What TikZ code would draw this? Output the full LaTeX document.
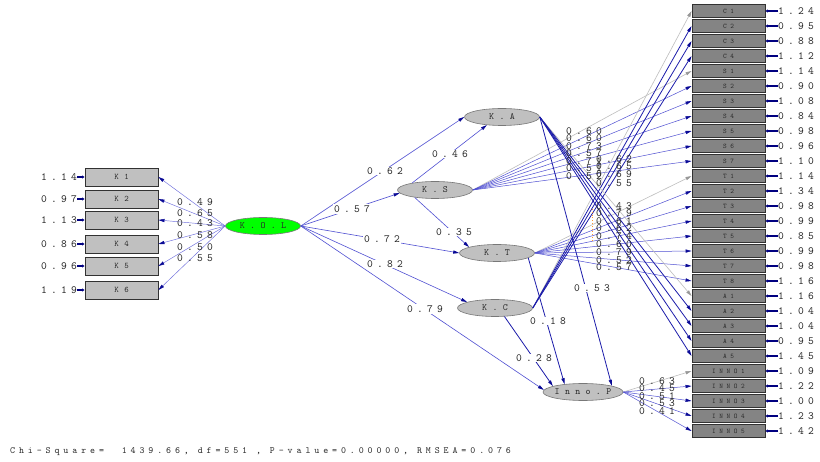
\documentclass[tikz,border=0pt]{standalone}
\usepackage{fontspec}
\usetikzlibrary{arrows.meta,shapes.geometric}
% spaced typewriter faces
\newfontfamily\lisnum[LetterSpace=38]{lmmono10-regular.otf}
\newfontfamily\liskbox[LetterSpace=65]{lmmono10-regular.otf}
\newfontfamily\lisrbox[LetterSpace=51]{lmmono10-regular.otf}
\newfontfamily\lislat[LetterSpace=56]{lmmono10-regular.otf}
\newfontfamily\lisfit[LetterSpace=41]{lmmono10-regular.otf}

\definecolor{lgray}{RGB}{192,192,192}
\definecolor{dgray}{RGB}{132,132,132}
\definecolor{boxline}{RGB}{50,50,50}
\definecolor{ellline}{RGB}{120,120,120}
\definecolor{kolgreen}{RGB}{0,255,0}
\definecolor{midblue}{RGB}{80,80,210}
\definecolor{lightblue}{RGB}{110,110,220}
\definecolor{darkblue}{RGB}{28,28,170}
\definecolor{tipblue}{RGB}{10,10,150}
\definecolor{navy}{RGB}{0,0,128}
\definecolor{fixgray}{RGB}{190,190,190}
\definecolor{numcol}{RGB}{40,40,40}

\begin{document}
\begin{tikzpicture}[x=1pt,y=-1pt,
  num/.style={font={\lisnum\fontsize{11}{11}\selectfont}, inner sep=0pt, text=numcol},
  numbg/.style={num, fill=white, inner sep=1pt},
  kbox/.style={draw=boxline, fill=lgray, line width=0.9pt, minimum width=73pt,
    minimum height=18pt, inner sep=0pt, font={\liskbox\fontsize{8.5}{8.5}\selectfont}, text=numcol},
  rbox/.style={draw=boxline, fill=dgray, line width=0.9pt, minimum width=73pt,
    minimum height=12.5pt, inner sep=0pt, font={\lisrbox\fontsize{7}{7}\selectfont}, text=black!85},
  lat/.style={ellipse, draw=ellline, fill=lgray, line width=0.6pt, minimum width=75pt,
    minimum height=17pt, inner sep=0pt, font={\lislat\fontsize{9.5}{9.5}\selectfont}, text=numcol},
  tip/.style={-{Triangle[length=6pt,width=3.2pt,color=tipblue]}},
  err/.style={draw=navy, line width=1.3pt, -{Triangle[length=2.5pt,width=3pt]}},
  pathK/.style={tip, draw=lightblue, line width=0.45pt},
  path/.style={tip, draw=midblue, line width=0.6pt},
  pathD/.style={tip, draw=darkblue, line width=0.8pt},
  fanM/.style={tip, draw=midblue, line width=0.5pt},
  fanD/.style={tip, draw=darkblue, line width=0.8pt},
  fanG/.style={-{Triangle[length=6pt,width=3.2pt,color=fixgray!80!black]}, draw=fixgray, line width=0.6pt}
]
\fill[white] (0,0) rectangle (820,462);
\useasboundingbox (0,0) rectangle (820,462);

% latent variables
\node[lat, fill=kolgreen] (KOL) at (263,226) {K.O.L};
\node[lat] (KA) at (502,117) {K.A};
\node[lat] (KS) at (435,190) {K.S};
\node[lat] (KT) at (497,253) {K.T};
\node[lat] (KC) at (495,308) {K.C};
\node[lat] (InnoP) at (583,392) {Inno.P};

% indicators of K.O.L
\foreach \n/\y/\e in {K1/177/1.14, K2/199/0.97, K3/220/1.13, K4/244/0.86, K5/266/0.96, K6/290/1.19}{
  \node[kbox] (\n) at (121.5,\y) {\n};
  \node[num, anchor=east] (e\n) at (77,\y) {\e};
  \draw[err] (e\n.east) -- (\n.west);
  \draw[pathK] (KOL.west) -- (\n.east);
}
\foreach \l/\y in {0.49/202, 0.65/213, 0.43/223, 0.58/235, 0.50/247, 0.55/258}
  \node[num] at (195,\y) {\l};

% indicators on the right
\foreach \n/\e [count=\i from 0] in {C1/1.24, C2/0.95, C3/0.88, C4/1.12, S1/1.14, S2/0.90,
  S3/1.08, S4/0.84, S5/0.98, S6/0.96, S7/1.10, T1/1.14, T2/1.34, T3/0.98, T4/0.99,
  T5/0.85, T6/0.99, T7/0.98, T8/1.16, A1/1.16, A2/1.04, A3/1.04, A4/0.95, A5/1.45,
  INNO1/1.09, INNO2/1.22, INNO3/1.00, INNO4/1.23, INNO5/1.42}{
  \pgfmathsetmacro\yy{11+15*\i}
  \node[rbox] (\n) at (728.5,\yy) {\n};
  \node[num, anchor=west] (e\n) at (778,\yy) {\e};
  \draw[err] (e\n.west) -- (\n.east);
}

% measurement paths
\draw[fanG] (KS.east) -- (S1.west);
\foreach \n in {S2,S3,S4,S5,S6,S7} \draw[fanM] (KS.east) -- (\n.west);
\draw[fanG] (KT.east) -- (T1.west);
\foreach \n in {T2,T3,T4,T5,T6,T7,T8} \draw[fanM] (KT.east) -- (\n.west);
\draw[fanG] (KC.east) -- (C1.west);
\foreach \n in {C2,C3,C4} \draw[fanD] (KC.east) -- (\n.west);
\draw[fanG] (KA.east) -- (A1.west);
\foreach \n in {A2,A3,A4,A5} \draw[fanD] (KA.east) -- (\n.west);
\draw[fanG] (InnoP.east) -- (INNO1.west);
\foreach \n in {INNO2,INNO3,INNO4,INNO5} \draw[fanM] (InnoP.east) -- (\n.west);

% structural paths
\draw[path] (KOL.east) -- (KA.west);
\draw[path] (KOL.east) -- (KS.185);
\draw[path] (KOL.east) -- (KT.west);
\draw[path] (KOL.east) -- (KC.168);
\draw[path] (KOL.east) -- (InnoP.177);
\draw[path] (KS.163) -- (KA.208);
\draw[path] (KS.200) -- (KT.168);
\draw[pathD] (KT.351) -- (InnoP.157);
\draw[pathD] (KC.318) -- (InnoP.169);
\draw[pathD] (KA.east) -- (InnoP.12);

% structural estimates
\node[numbg] at (385,171) {0.62};
\node[numbg] at (352,209) {0.57};
\node[numbg] at (450,154) {0.46};
\node[numbg] at (454,232) {0.35};
\node[numbg] at (382,239) {0.72};
\node[numbg] at (385,264) {0.82};
\node[numbg] at (425,309) {0.79};
\node[numbg] at (548,321) {0.18};
\node[numbg] at (534,358) {0.28};
\node[numbg] at (592,288) {0.53};

% loadings
\foreach \l/\y in {0.60/131, 0.60/138, 0.73/146, 0.57/153, 0.71/161, 0.51/168, 0.52/176}
  \node[num] at (584,\y) {\l};
\foreach \l/\y in {0.62/159, 0.65/166, 0.69/174, 0.55/183}
  \node[num] at (614,\y) {\l};
\foreach \l/\y in {0.43/206, 0.79/213, 0.61/221, 0.62/228, 0.74/236, 0.60/244, 0.79/252, 0.52/260, 0.57/267}
  \node[num] at (614,\y) {\l};
\foreach \l/\y in {0.63/381, 0.45/388, 0.51/396, 0.53/403, 0.41/411}
  \node[num] at (657,\y) {\l};
\draw[orange!80, dotted, line width=0.8pt] (592,209) -- (592,240);

% fit statistics
\node[anchor=west, inner sep=0pt, text=numcol, font={\lisfit\fontsize{9.5}{9.5}\selectfont}]
  at (10,452) {Chi-Square=\ \ 1439.66, df=551 , P-value=0.00000, RMSEA=0.076};
\end{tikzpicture}
\end{document}
